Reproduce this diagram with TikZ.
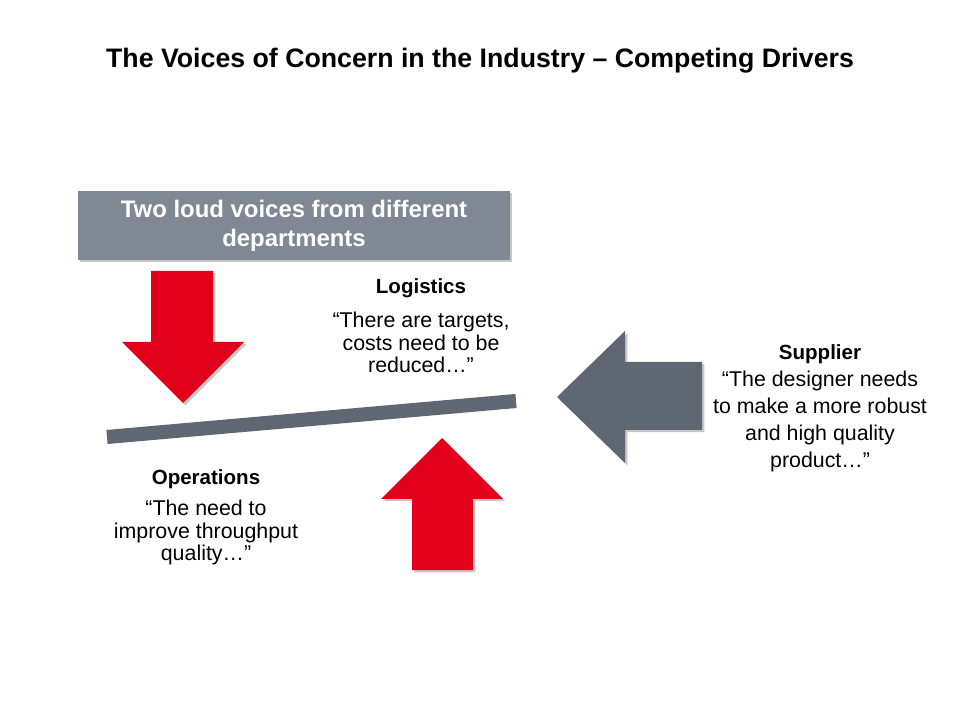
\documentclass[tikz,border=0pt]{standalone}
\usepackage{fontspec}
\setmainfont{Liberation Sans}
\usetikzlibrary{positioning,shadows}
\definecolor{voicered}{RGB}{226,0,26}
\definecolor{boxgrey}{RGB}{128,137,147}
\definecolor{beamgrey}{RGB}{94,103,114}
\tikzset{
  softshadow/.style = {drop shadow={shadow xshift=1.6pt, shadow yshift=-1.6pt,
                       opacity=0.22, fill=black}},
  heading/.style    = {font=\bfseries\fontsize{14.6}{16}\selectfont, inner sep=0pt},
  quote/.style      = {font=\fontsize{15.2}{16}\selectfont, align=center, inner sep=0pt},
  voicebox/.style   = {fill=boxgrey, text=white, align=center, softshadow,
                       font=\bfseries\fontsize{17}{20.6}\selectfont,
                       minimum width=10.8cm, minimum height=1.725cm},
  redarrow/.style   = {fill=voicered, softshadow},
  greyarrow/.style  = {fill=beamgrey, softshadow},
  beam/.style       = {draw=beamgrey, line width=10pt},
}
\begin{document}
\begin{tikzpicture}[x=0.025cm,y=-0.025cm]
\useasboundingbox (0,0) rectangle (960,720);
% title
\node[font=\bfseries\fontsize{19}{22}\selectfont] (title) at (480,61)
  {The Voices of Concern in the Industry -- Competing Drivers};
% grey banner
\node[voicebox] (voices) at (294,225.5) {Two loud voices from different\\departments};
% arrows
\path[redarrow] (151,271) -- (213,271) -- (213,342) -- (244,342) -- (183,403)
  -- (122,342) -- (151,342) -- cycle;
\path[redarrow] (412,570) -- (473,570) -- (473,499) -- (503,499) -- (442,438)
  -- (381,499) -- (412,499) -- cycle;
\path[greyarrow] (702,362) -- (702,430) -- (625,430) -- (625,463) -- (557,397)
  -- (625,331) -- (625,362) -- cycle;
% beam
\coordinate (beamL) at (107,437);
\coordinate (beamR) at (516,401);
\draw[beam] (beamL) -- (beamR);
% logistics
\node[heading] (logi) at (421,288) {Logistics};
\node[quote] (logiq) at (421,342.5) {“There are targets,\\costs need to be\\reduced…”};
% supplier
\node[heading] (supp) at (820,354) {Supplier};
\node[quote,font=\fontsize{15.2}{19.2}\selectfont] (suppq) at (820,421.5)
  {“The designer needs\\to make a more robust\\and high quality\\product…”};
% operations
\node[heading] (oper) at (206,479) {Operations};
\node[quote] (operq) at (206,532.5) {“The need to\\improve throughput\\quality…”};
\end{tikzpicture}
\end{document}
